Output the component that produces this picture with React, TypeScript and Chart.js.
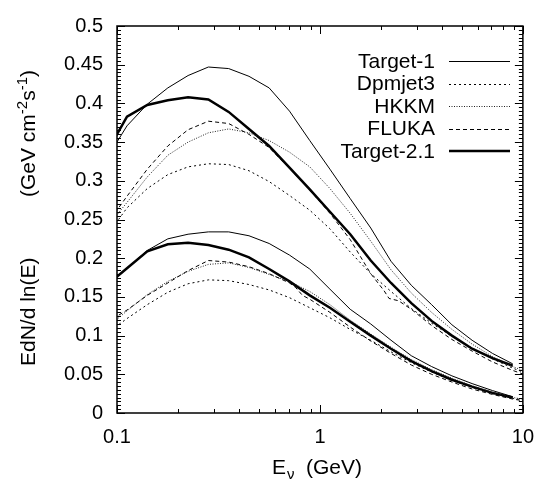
import React, { useEffect, useRef } from "react";
import { Chart, registerables } from "chart.js";
Chart.register(...registerables);

// Neutrino energy grid (GeV)
const energies = [0.0891, 0.112, 0.141, 0.178, 0.224, 0.282, 0.355, 0.447, 0.562, 0.708, 0.891, 1.12, 1.41, 1.78, 2.24, 2.82, 3.55, 4.47, 5.62, 7.08, 8.91];
const energiesExt = [...energies, 11.2];
const flukaHighEnergies = [0.0891, 0.112, 0.141, 0.178, 0.224, 0.282, 0.355, 0.447, 0.562, 0.708, 0.891, 1.12, 1.41, 1.78, 2.07, 2.19, 2.44, 2.82, 3.55, 4.47, 5.62, 7.08, 8.91, 11.2];
const flukaLowEnergies = [0.0891, 0.112, 0.141, 0.178, 0.224, 0.282, 0.355, 0.447, 0.562, 0.708, 0.76, 0.82, 0.891, 1.12, 1.41, 1.78, 2.24, 2.82, 3.55, 4.47, 5.62, 7.08, 8.91, 11.2];

// Upper group
const target1High = [0.329, 0.371, 0.399, 0.420, 0.436, 0.447, 0.445, 0.435, 0.420, 0.390, 0.352, 0.315, 0.277, 0.239, 0.196, 0.165, 0.140, 0.114, 0.094, 0.077, 0.0635];
const dpmjetHigh = [0.229, 0.265, 0.290, 0.308, 0.318, 0.322, 0.321, 0.313, 0.299, 0.281, 0.262, 0.238, 0.208, 0.180, 0.157, 0.135, 0.116, 0.099, 0.084, 0.070, 0.058, 0.048];
const hkkmHigh = [0.240, 0.272, 0.305, 0.333, 0.350, 0.362, 0.367, 0.362, 0.352, 0.337, 0.318, 0.290, 0.258, 0.222, 0.185, 0.155, 0.130, 0.108, 0.089, 0.073, 0.060, 0.050];
const flukaHigh = [0.244, 0.280, 0.315, 0.345, 0.366, 0.377, 0.374, 0.360, 0.343, 0.316, 0.288, 0.258, 0.224, 0.180, 0.158, 0.148, 0.145, 0.134, 0.113, 0.095, 0.080, 0.066, 0.055, 0.046];
const target21High = [0.337, 0.383, 0.398, 0.404, 0.408, 0.405, 0.389, 0.367, 0.345, 0.317, 0.289, 0.260, 0.231, 0.197, 0.168, 0.142, 0.119, 0.100, 0.083, 0.071, 0.061];

// Lower group
const target1Low = [0.165, 0.187, 0.210, 0.225, 0.231, 0.234, 0.234, 0.229, 0.219, 0.204, 0.186, 0.160, 0.134, 0.115, 0.094, 0.074, 0.060, 0.048, 0.038, 0.029, 0.021];
const dpmjetLow = [0.103, 0.122, 0.140, 0.156, 0.167, 0.172, 0.171, 0.166, 0.159, 0.149, 0.136, 0.123, 0.108, 0.094, 0.079, 0.065, 0.053, 0.042, 0.033, 0.025, 0.019, 0.015];
const hkkmLow = [0.110, 0.132, 0.153, 0.170, 0.183, 0.192, 0.194, 0.188, 0.179, 0.170, 0.157, 0.140, 0.120, 0.102, 0.085, 0.069, 0.056, 0.045, 0.035, 0.027, 0.020, 0.016];
const flukaLow = [0.117, 0.133, 0.152, 0.168, 0.184, 0.197, 0.195, 0.189, 0.180, 0.168, 0.162, 0.152, 0.147, 0.130, 0.111, 0.093, 0.077, 0.062, 0.050, 0.040, 0.031, 0.024, 0.018, 0.014];
const target21Low = [0.165, 0.187, 0.209, 0.218, 0.220, 0.217, 0.211, 0.201, 0.186, 0.170, 0.152, 0.136, 0.118, 0.100, 0.083, 0.067, 0.054, 0.043, 0.034, 0.026, 0.020];

const seriesNames = ["Target-1", "Dpmjet3", "HKKM", "FLUKA", "Target-2.1"];
const yTicks = [0, 0.05, 0.1, 0.15, 0.2, 0.25, 0.3, 0.35, 0.4, 0.45, 0.5];
const xTicks = [0.1, 1, 10];

const FONT = "'Liberation Sans', Arial, Helvetica, sans-serif";

const styles: Record<string, { width: number; dash: number[]; color: string }> = {
  "Target-1": { width: 1, dash: [], color: "#000" },
  "Dpmjet3": { width: 1, dash: [2, 3], color: "#000" },
  "HKKM": { width: 1, dash: [1, 1.5], color: "#222" },
  "FLUKA": { width: 1, dash: [4, 3], color: "#000" },
  "Target-2.1": { width: 2.5, dash: [], color: "#000" },
};

const pts = (xs: number[], ys: number[]) => ys.map((v, i) => ({ x: xs[i], y: v }));

const decorPlugin = {
  id: "decor",
  beforeDraw(chart: any) {
    const { ctx } = chart;
    ctx.save();
    ctx.fillStyle = "#fff";
    ctx.fillRect(0, 0, chart.width, chart.height);
    ctx.restore();
  },
  afterDraw(chart: any) {
    const { ctx, chartArea } = chart;
    const { left, right, top, bottom } = chartArea;
    const xs = chart.scales.x;
    const ys = chart.scales.y;
    ctx.save();
    ctx.strokeStyle = "#000";
    ctx.lineWidth = 1;
    ctx.setLineDash([]);
    ctx.beginPath();
    for (let i = 0; i <= 100; i++) {
      const v = i * 0.005;
      const py = Math.round(ys.getPixelForValue(v)) + 0.5;
      const len = i % 10 === 0 ? 8 : 4;
      ctx.moveTo(left, py);
      ctx.lineTo(left + len, py);
      ctx.moveTo(right, py);
      ctx.lineTo(right - len, py);
    }
    for (const d of [0.1, 1]) {
      for (let k = 1; k <= 10; k++) {
        const v = d * k;
        const px = Math.round(xs.getPixelForValue(v)) + 0.5;
        const len = k === 1 || k === 10 ? 8 : 4;
        ctx.moveTo(px, bottom);
        ctx.lineTo(px, bottom - len);
        ctx.moveTo(px, top);
        ctx.lineTo(px, top + len);
      }
    }
    ctx.stroke();
    ctx.lineWidth = 1.5;
    ctx.strokeRect(left, top, right - left, bottom - top);

    // Legend
    ctx.fillStyle = "#000";
    ctx.font = `21px ${FONT}`;
    ctx.textAlign = "right";
    ctx.textBaseline = "middle";
    const rowY = [61, 83.5, 106, 128.5, 151];
    seriesNames.forEach((name, i) => {
      const st = styles[name];
      const y = rowY[i];
      ctx.fillText(name, 435, y + 1);
      ctx.beginPath();
      ctx.lineWidth = st.width;
      ctx.strokeStyle = st.color;
      ctx.setLineDash(st.dash);
      const yy = Math.round(y) + (st.width === 1 ? 0.5 : 0);
      ctx.moveTo(449, yy);
      ctx.lineTo(510, yy);
      ctx.stroke();
    });
    ctx.setLineDash([]);

    // X title: E_nu (GeV)
    ctx.textAlign = "left";
    ctx.textBaseline = "alphabetic";
    ctx.font = `21px ${FONT}`;
    ctx.fillText("E", 272, 474);
    const ew = ctx.measureText("E").width;
    ctx.font = `15px ${FONT}`;
    ctx.fillText("ν", 272 + ew + 1, 479);
    ctx.font = `21px ${FONT}`;
    ctx.fillText("(GeV)", 306, 474);

    // Y title (rotated)
    ctx.translate(35, 0);
    ctx.rotate(-Math.PI / 2);
    ctx.font = `21px ${FONT}`;
    ctx.fillText("EdN/d ln(E)", -366, 0);
    const parts: [string, boolean][] = [["(GeV cm", false], ["-2", true], ["s", false], ["-1", true], [")", false]];
    let total = 0;
    for (const [t, sup] of parts) {
      ctx.font = sup ? `15px ${FONT}` : `21px ${FONT}`;
      total += ctx.measureText(t).width;
    }
    let u = -70 - total;
    for (const [t, sup] of parts) {
      ctx.font = sup ? `15px ${FONT}` : `21px ${FONT}`;
      ctx.fillText(t, u, sup ? -8 : 0);
      u += ctx.measureText(t).width;
    }
    ctx.restore();
  },
};

export default function App() {
  const ref = useRef<HTMLCanvasElement | null>(null);
  useEffect(() => {
    if (!ref.current) return;
    const mk = (name: string, data: any[]) => ({
      label: name,
      data,
      borderColor: styles[name].color,
      borderWidth: styles[name].width,
      borderDash: styles[name].dash,
      pointRadius: 0,
      fill: false,
      tension: 0,
    });
    const chart = new Chart(ref.current, {
      type: "line",
      data: {
        datasets: [
          mk("Target-1", pts(energies, target1High)),
          mk("Dpmjet3", pts(energiesExt, dpmjetHigh)),
          mk("HKKM", pts(energiesExt, hkkmHigh)),
          mk("FLUKA", pts(flukaHighEnergies, flukaHigh)),
          mk("Target-2.1", pts(energies, target21High)),
          mk("Target-1", pts(energies, target1Low)),
          mk("Dpmjet3", pts(energiesExt, dpmjetLow)),
          mk("HKKM", pts(energiesExt, hkkmLow)),
          mk("FLUKA", pts(flukaLowEnergies, flukaLow)),
          mk("Target-2.1", pts(energies, target21Low)),
        ],
      },
      options: {
        animation: false,
        responsive: false,
        devicePixelRatio: 1,
        layout: { padding: { left: 0, right: 14, top: 22, bottom: 0 } },
        plugins: { legend: { display: false }, tooltip: { enabled: false }, title: { display: false } },
        scales: {
          x: {
            type: "logarithmic",
            min: 0.1,
            max: 10,
            grid: { display: false, drawTicks: false },
            border: { display: false },
            afterBuildTicks: (s: any) => {
              s.ticks = xTicks.map((v) => ({ value: v }));
            },
            afterFit: (s: any) => {
              s.height = 70;
            },
            ticks: {
              autoSkip: false,
              maxRotation: 0,
              padding: 12,
              color: "#000",
              font: { family: FONT, size: 20 },
              callback: (v: any) => String(v),
            },
          },
          y: {
            type: "linear",
            min: 0,
            max: 0.5,
            grid: { display: false, drawTicks: false },
            border: { display: false },
            afterBuildTicks: (s: any) => {
              s.ticks = yTicks.map((v) => ({ value: v }));
            },
            afterFit: (s: any) => {
              s.width = 117;
            },
            ticks: {
              padding: 14,
              color: "#000",
              font: { family: FONT, size: 20 },
              callback: (v: any) => String(Number(Number(v).toFixed(3))),
            },
          },
        },
      },
      plugins: [decorPlugin],
    } as any);
    return () => chart.destroy();
  }, []);
  return (
    <div style={{ position: "absolute", left: 0, top: 0, width: 546, height: 483, background: "#fff" }}>
      <canvas ref={ref} width={546} height={483} style={{ display: "block" }} />
    </div>
  );
}
